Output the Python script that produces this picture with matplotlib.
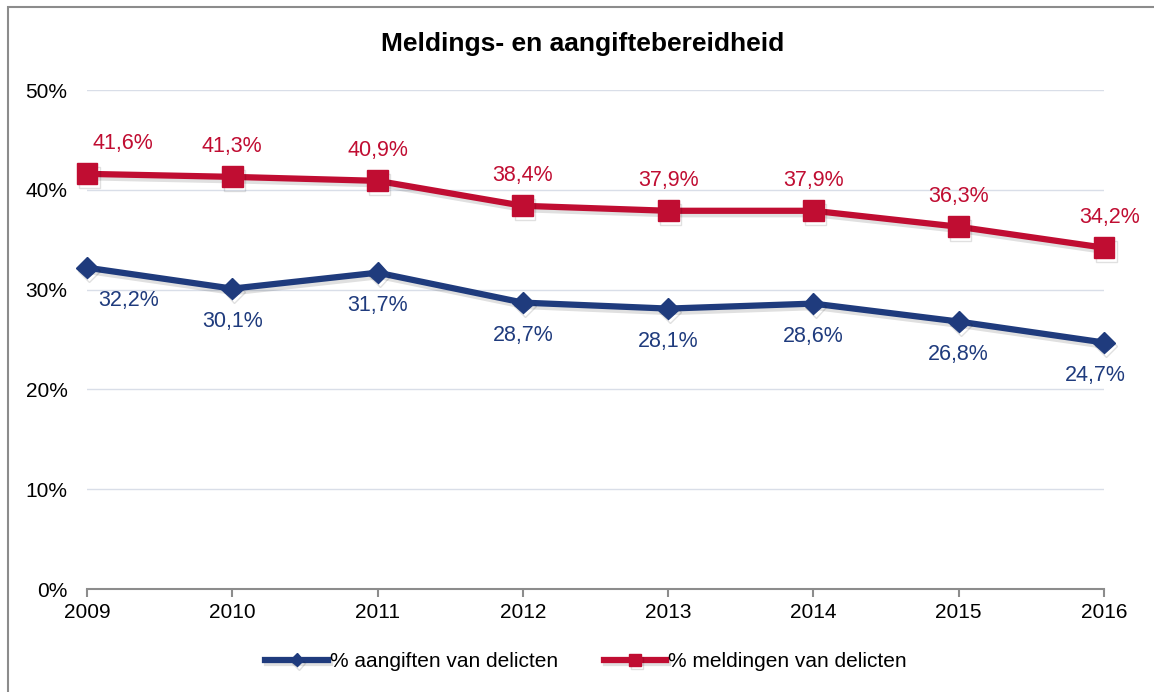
import matplotlib
matplotlib.use("Agg")
import matplotlib.pyplot as plt
import matplotlib.patches as patches
import matplotlib.patheffects as pe
import matplotlib.ticker as mtick

plt.rcParams['font.family'] = ['Liberation Sans', 'DejaVu Sans']

years = [2009, 2010, 2011, 2012, 2013, 2014, 2015, 2016]
aangiften = [32.2, 30.1, 31.7, 28.7, 28.1, 28.6, 26.8, 24.7]
meldingen = [41.6, 41.3, 40.9, 38.4, 37.9, 37.9, 36.3, 34.2]

blue = '#1f3b7d'
red = '#c00d32'

fig = plt.figure(figsize=(11.54, 6.92), dpi=100)
ax = fig.add_axes([0.0754, 0.1488, 0.8813, 0.7211])

shadow = [pe.SimpleLineShadow(offset=(1.5, -2.5), alpha=0.12, shadow_color='black'), pe.Normal()]

ax.plot(years, aangiften, color=blue, lw=4.5, marker='D', markersize=11,
        label='% aangiften van delicten', path_effects=shadow, zorder=3, clip_on=False)
ax.plot(years, meldingen, color=red, lw=4.5, marker='s', markersize=15,
        label='% meldingen van delicten', path_effects=shadow, zorder=4, clip_on=False)

def fmt(v):
    return ('%.1f%%' % v).replace('.', ',')

# value labels: red above, blue below; the end labels are nudged inwards/outwards
for i, (x, v) in enumerate(zip(years, meldingen)):
    dx = 26 if i == 0 else (4 if i == len(years) - 1 else 0)
    ax.annotate(fmt(v), (x, v), xytext=(dx, 14), textcoords='offset points',
                ha='center', va='bottom', color=red, fontsize=15.5)
for i, (x, v) in enumerate(zip(years, aangiften)):
    dx = 30 if i == 0 else (-6 if i == len(years) - 1 else 0)
    ax.annotate(fmt(v), (x, v), xytext=(dx, -16), textcoords='offset points',
                ha='center', va='top', color=blue, fontsize=15.5)

ax.set_xlim(2009, 2016)
ax.set_ylim(0, 50)
ax.set_xticks(years)
ax.set_yticks([0, 10, 20, 30, 40, 50])
ax.yaxis.set_major_formatter(mtick.FormatStrFormatter('%d%%'))
ax.grid(axis='y', color='#d9dee8', lw=1)
ax.set_axisbelow(True)
for s in ['top', 'right', 'left']:
    ax.spines[s].set_visible(False)
ax.spines['bottom'].set_color('#8c8c8c')
ax.spines['bottom'].set_linewidth(1.5)
ax.tick_params(axis='x', colors='#8c8c8c', length=6, width=1.5, labelcolor='black',
               labelsize=15, pad=4)
ax.tick_params(axis='y', length=0, labelsize=15, pad=14)

fig.text(0.505, 0.936, 'Meldings- en aangiftebereidheid', ha='center', va='center',
         fontsize=19, fontweight='bold')

fig.legend(loc='center', bbox_to_anchor=(0.508, 0.044), ncol=2, frameon=False,
           fontsize=15, handlelength=3.0, handletextpad=0.1, columnspacing=2.2,
           markerscale=0.6)

border = patches.Rectangle((8 / 1154, -0.05), 1.1, 1 - 7 / 692 + 0.05,
                           transform=fig.transFigure, fill=False,
                           edgecolor='#8c8c8c', lw=1.5)
fig.patches.append(border)

fig.savefig('out.png', dpi=100)
